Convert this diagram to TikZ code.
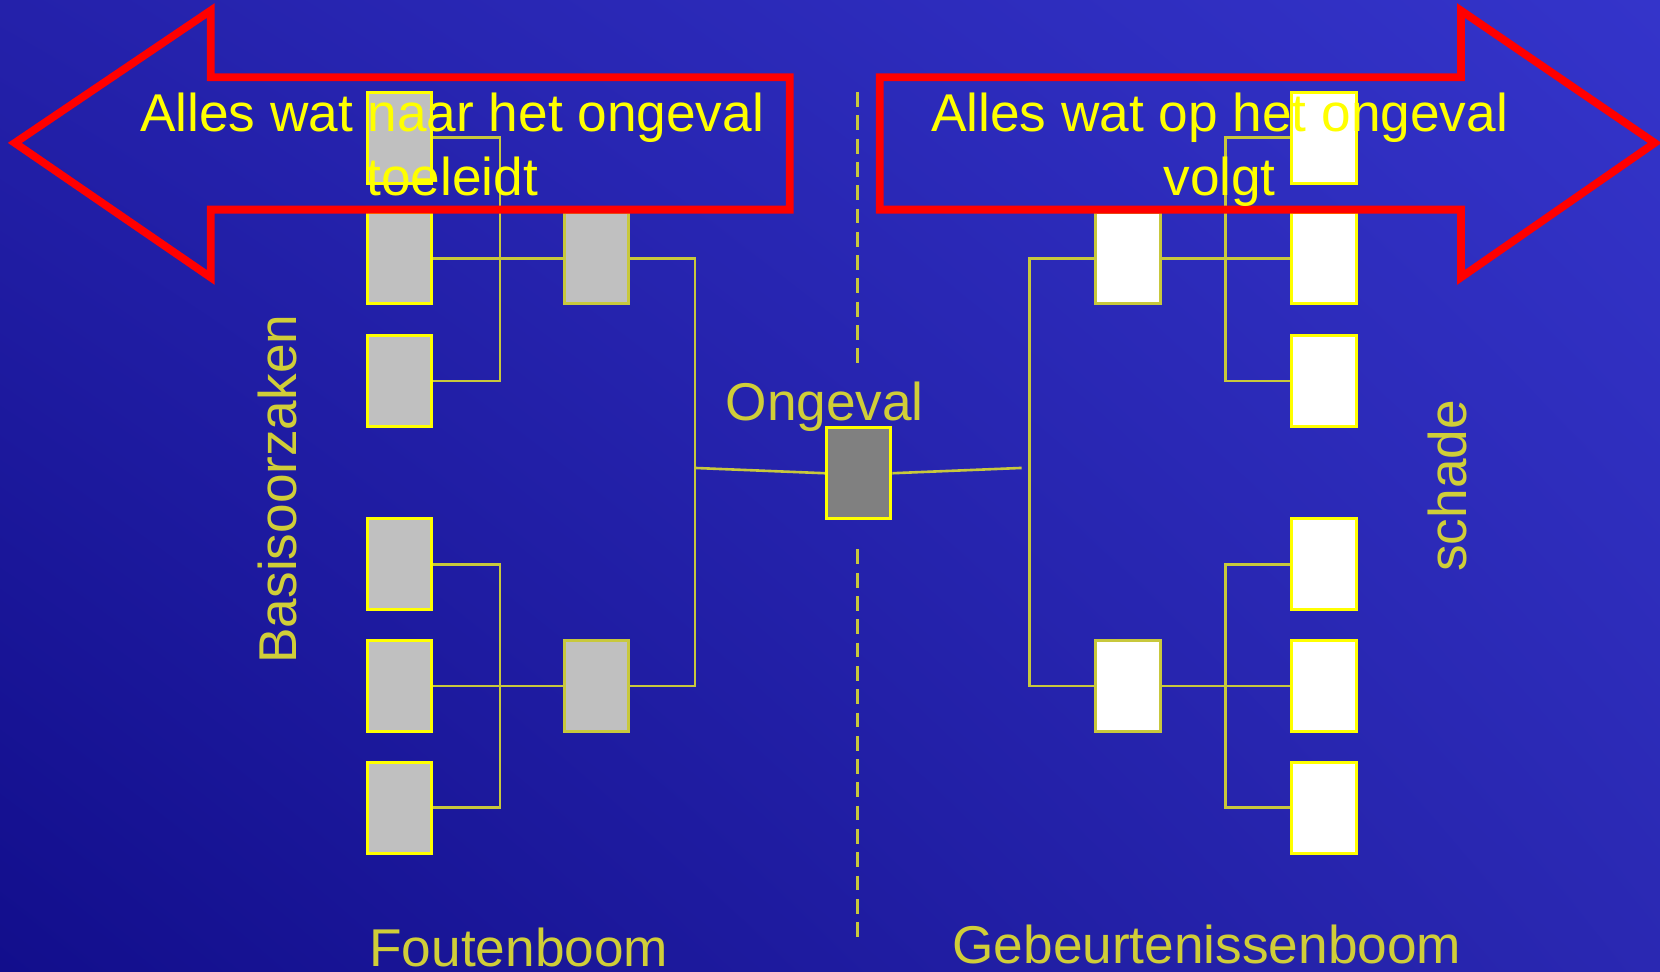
\documentclass[tikz,border=0pt]{standalone}
\usepackage{fontspec}
\setmainfont{Liberation Sans}
\definecolor{bgdonker}{RGB}{18,14,140}
\definecolor{bglicht}{RGB}{52,52,202}
\definecolor{bglinks}{RGB}{36,33,170}
\definecolor{bgrechts}{RGB}{42,40,178}
\definecolor{lijngeel}{RGB}{200,200,60}
\definecolor{tekstgeel}{RGB}{208,206,56}
\definecolor{felgeel}{RGB}{255,255,0}
\definecolor{pijlrood}{RGB}{255,0,0}
\definecolor{boxgrijs}{RGB}{192,192,192}
\definecolor{ongevalgrijs}{RGB}{128,128,128}
\usetikzlibrary{positioning, calc, shadings}
\newcommand{\groot}{\fontsize{14.3}{17.1}\selectfont}

\begin{document}
\begin{tikzpicture}[
  blok/.style={line width=0.8pt, minimum width=0.61cm, minimum height=0.86cm, inner sep=0pt},
  oorzaak/.style={blok, draw=felgeel, fill=boxgrijs},
  tussen/.style={blok, draw=lijngeel, fill=boxgrijs},
  gevolg/.style={blok, draw=felgeel, fill=white},
  tak/.style={draw=lijngeel, line width=0.7pt},
  pijl/.style={draw=pijlrood, line width=2.1pt, miter limit=20},
  label/.style={text=tekstgeel, font=\groot, inner sep=0pt},
  pijltekst/.style={text=felgeel, font=\groot, align=center, inner sep=0pt}
]
  % Background
  \shade[lower left=bgdonker, upper right=bglicht, upper left=bglinks, lower right=bgrechts]
    (0,0) rectangle (15.68,-9.18);
  \useasboundingbox (0,0) rectangle (15.68,-9.18);

  % Foutenboom: basic causes
  \node[oorzaak] (b1) at (3.775,-1.30) {};
  \node[oorzaak] (b2) at (3.775,-2.44) {};
  \node[oorzaak] (b3) at (3.775,-3.60) {};
  \node[oorzaak] (b4) at (3.775,-5.33) {};
  \node[oorzaak] (b5) at (3.775,-6.48) {};
  \node[oorzaak] (b6) at (3.775,-7.63) {};
  \node[tussen] (m1) at (5.635,-2.44) {};
  \node[tussen] (m2) at (5.635,-6.48) {};

  % Top event
  \node[blok, draw=felgeel, fill=ongevalgrijs] (og) at (8.11,-4.47) {};

  % Gebeurtenissenboom: consequences
  \node[gevolg, draw=lijngeel] (r1) at (10.655,-2.44) {};
  \node[gevolg, draw=lijngeel] (r2) at (10.655,-6.48) {};
  \node[gevolg] (s1) at (12.505,-1.30) {};
  \node[gevolg] (s2) at (12.505,-2.44) {};
  \node[gevolg] (s3) at (12.505,-3.60) {};
  \node[gevolg] (s4) at (12.505,-5.33) {};
  \node[gevolg] (s5) at (12.505,-6.48) {};
  \node[gevolg] (s6) at (12.505,-7.63) {};

  % Connectors left
  \draw[tak] (b1.east) -- ++(0.63,0) |- (b3.east);
  \draw[tak] (b2.east) -- (m1.west);
  \draw[tak] (b4.east) -- ++(0.63,0) |- (b6.east);
  \draw[tak] (b5.east) -- (m2.west);
  \coordinate (linksknoop) at (6.56,-4.42);
  \draw[tak] (m1.east) -| ($(m2.east)+(0.61,0)$) -- (m2.east);
  \draw[tak] (linksknoop) -- (og.west);

  % Connectors right
  \coordinate (rechtsknoop) at (9.65,-4.42);
  \draw[tak] (og.east) -- (rechtsknoop);
  \draw[tak] (r1.west) -- ++(-0.61,0) |- (r2.west);
  \draw[tak] (r1.east) -- (s2.west);
  \draw[tak] (r2.east) -- (s5.west);
  \draw[tak] (s1.west) -- ++(-0.61,0) |- (s3.west);
  \draw[tak] (s4.west) -- ++(-0.61,0) |- (s6.west);

  % Dashed separator
  \coordinate (streep1) at (8.10,-0.87);
  \coordinate (streep2) at (8.10,-3.45);
  \coordinate (streep3) at (8.10,-5.19);
  \coordinate (streep4) at (8.10,-8.90);
  \draw[draw=lijngeel, line width=0.6pt, dash pattern=on 0.14cm off 0.08cm] (streep1) -- (streep2) (streep3) -- (streep4);

  % Red arrows
  \draw[pijl] (0.14,-1.35) -- (1.99,-0.10) -- (1.99,-0.73) -- (7.46,-0.73) -- (7.46,-1.98)
    -- (1.99,-1.98) -- (1.99,-2.62) -- cycle;
  \draw[pijl] (8.31,-0.73) -- (13.80,-0.73) -- (13.80,-0.10) -- (15.63,-1.35) -- (13.80,-2.62)
    -- (13.80,-1.98) -- (8.31,-1.98) -- cycle;
  \node[pijltekst, anchor=base] (voor) at (4.27,-1.845) {Alles wat naar het ongeval\\toeleidt};
  \node[pijltekst, anchor=base] (na) at (11.52,-1.845) {Alles wat op het ongeval\\volgt};

  % Labels
  \node[label, anchor=base] (ongeval) at (7.79,-3.97) {Ongeval};
  \node[label, anchor=base, rotate=90] (basis) at (2.80,-4.62) {Basisoorzaken};
  \node[label, anchor=base, rotate=90] (schade) at (13.85,-4.59) {schade};
  \node[label, anchor=base] (fouten) at (4.90,-9.13) {Foutenboom};
  \node[label, anchor=base] (gebeurt) at (11.40,-9.10) {Gebeurtenissenboom};
\end{tikzpicture}
\end{document}
